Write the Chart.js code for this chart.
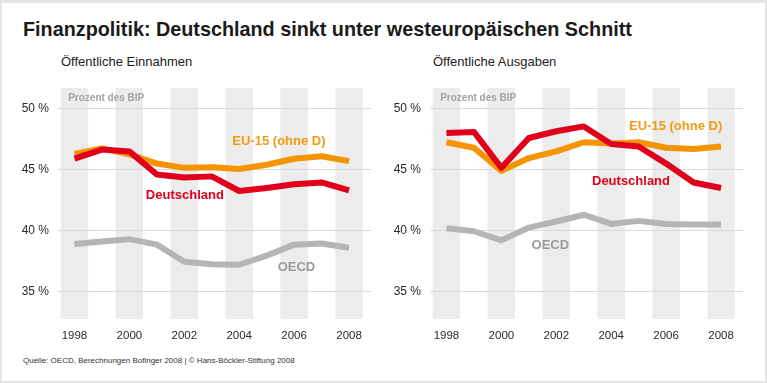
<!DOCTYPE html>
<html>
<head>
<meta charset="utf-8">
<script src="https://cdn.jsdelivr.net/npm/chart.js@4/dist/chart.umd.min.js"></script>
<style>
  html, body { margin: 0; padding: 0; background: #fff; }
  #frame { position: relative; width: 767px; height: 383px; box-sizing: border-box;
           border: 2px solid #e4e4e4; border-top-width: 3px; overflow: hidden;
           font-family: "Liberation Sans", Arial, sans-serif; color: #1a1a1a; }
  .title { position: absolute; left: 21px; top: 15px; font-size: 19.8px; font-weight: bold; white-space: nowrap; }
  .sub { position: absolute; top: 51px; font-size: 13px; color: #222; white-space: nowrap; }
  .foot { position: absolute; left: 21px; top: 353px; font-size: 8px; color: #333; white-space: nowrap; }
  .box { position: absolute; top: 77px; width: 380px; height: 270px; }
</style>
</head>
<body>
<div id="frame">
  <div class="title">Finanzpolitik: Deutschland sinkt unter westeuropäischen Schnitt</div>
  <div class="sub" style="left:59px">Öffentliche Einnahmen</div>
  <div class="sub" style="left:431px">Öffentliche Ausgaben</div>
  <div class="box" style="left:-2px"><canvas id="left"></canvas></div>
  <div class="box" style="left:370px"><canvas id="right"></canvas></div>
  <div class="foot">Quelle: OECD, Berechnungen Bofinger 2008 | © Hans-Böckler-Stiftung 2008</div>
</div>
<script>
"use strict";

const years = [1998, 1999, 2000, 2001, 2002, 2003, 2004, 2005, 2006, 2007, 2008];
const xTicks = [1998, 2000, 2002, 2004, 2006, 2008];
const yTicks = [35, 40, 45, 50];

// Öffentliche Einnahmen, Prozent des BIP
const einnahmenDE = [45.9, 46.65, 46.5, 44.6, 44.35, 44.45, 43.25, 43.5, 43.8, 43.95, 43.3];
const einnahmenEU = [46.3, 46.75, 46.25, 45.5, 45.15, 45.2, 45.05, 45.4, 45.9, 46.1, 45.7];
const einnahmenOECD = [38.9, 39.1, 39.3, 38.85, 37.45, 37.25, 37.2, 37.95, 38.85, 38.95, 38.6];

// Öffentliche Ausgaben, Prozent des BIP
const ausgabenDE = [48.0, 48.1, 45.15, 47.6, 48.15, 48.55, 47.1, 46.9, 45.5, 43.95, 43.5];
const ausgabenEU = [47.25, 46.8, 44.9, 45.95, 46.5, 47.25, 47.15, 47.25, 46.8, 46.7, 46.9];
const ausgabenOECD = [40.2, 39.95, 39.2, 40.25, 40.75, 41.3, 40.55, 40.8, 40.55, 40.5, 40.5];

const RED = '#e0001b';
const ORANGE = '#f39400';
const GREY = '#b5b5b5';

// where the series names sit (year, value)
const leftLabels = [
    { text: 'EU-15 (ohne D)', x: 2003.75, y: 47.3, color: '#f29a10' },
    { text: 'Deutschland', x: 2000.6, y: 42.85, color: RED },
    { text: 'OECD', x: 2005.4, y: 36.95, color: '#9b9b9b' }
];
const rightLabels = [
    { text: 'EU-15 (ohne D)', x: 2004.65, y: 48.55, color: '#f29a10' },
    { text: 'Deutschland', x: 2003.3, y: 44.05, color: RED },
    { text: 'OECD', x: 2001.1, y: 38.8, color: '#9b9b9b' }
];

function points(values) {
    return years.map((yr, i) => ({ x: yr, y: values[i] }));
}

function noPadding(s) {
    s.paddingLeft = 0;
    s.paddingRight = 0;
    s.paddingTop = 0;
    s.paddingBottom = 0;
}

const stripes = {
    id: 'stripes',
    beforeDraw(chart) {
        const ctx = chart.ctx;
        const x = chart.scales.x;
        const area = chart.chartArea;
        ctx.save();
        ctx.fillStyle = '#ececec';
        for (let i = 0; i < xTicks.length; i++) {
            const a = x.getPixelForValue(xTicks[i] - 0.5);
            const b = x.getPixelForValue(xTicks[i] + 0.5);
            ctx.fillRect(a, area.top, b - a, area.bottom - area.top);
        }
        ctx.restore();
    }
};

const seriesNames = {
    id: 'seriesNames',
    afterDatasetsDraw(chart, args, opts) {
        const ctx = chart.ctx;
        const x = chart.scales.x;
        const y = chart.scales.y;
        ctx.save();
        ctx.textBaseline = 'middle';
        ctx.textAlign = 'left';
        ctx.font = 'bold 10px "Liberation Sans", Arial, sans-serif';
        ctx.fillStyle = '#a3a3a3';
        ctx.fillText('Prozent des BIP', x.getPixelForValue(1997.77), y.getPixelForValue(50.9));
        ctx.font = 'bold 13px "Liberation Sans", Arial, sans-serif';
        for (const l of opts.labels) {
            ctx.fillStyle = l.color;
            ctx.fillText(l.text, x.getPixelForValue(l.x), y.getPixelForValue(l.y));
        }
        ctx.restore();
    }
};

function makeChart(id, de, eu, oecd, labels) {
    const ctx = document.getElementById(id).getContext('2d');
    return new Chart(ctx, {
        type: 'line',
        data: {
            datasets: [
                { label: 'Deutschland', data: points(de), borderColor: RED },
                { label: 'EU-15 (ohne D)', data: points(eu), borderColor: ORANGE },
                { label: 'OECD', data: points(oecd), borderColor: GREY }
            ]
        },
        options: {
            responsive: true,
            maintainAspectRatio: false,
            animation: false,
            layout: { padding: { top: 8, right: 9, left: 0, bottom: 0 } },
            elements: {
                line: { borderWidth: 6, tension: 0, borderJoinStyle: 'round', borderCapStyle: 'butt' },
                point: { radius: 0 }
            },
            plugins: {
                legend: { display: false },
                tooltip: { enabled: false },
                seriesNames: { labels: labels }
            },
            scales: {
                x: {
                    type: 'linear',
                    min: 1997.4,
                    max: 2008.8,
                    afterBuildTicks: (s) => { s.ticks = xTicks.map(v => ({ value: v })); },
                    afterFit: (s) => { s.height = 31; noPadding(s); },
                    grid: { display: false, drawTicks: false },
                    border: { display: false },
                    ticks: {
                        padding: 10,
                        color: '#2a2a2a',
                        font: { family: '"Liberation Sans", Arial, sans-serif', size: 11.5 },
                        maxRotation: 0,
                        callback: (v) => String(v)
                    }
                },
                y: {
                    min: 32.75,
                    max: 51.7,
                    afterBuildTicks: (s) => { s.ticks = yTicks.map(v => ({ value: v })); },
                    afterFit: (s) => { s.width = 58; noPadding(s); },
                    grid: { color: '#dadada', lineWidth: 1, drawTicks: false },
                    border: { display: false },
                    ticks: {
                        padding: 9,
                        color: '#2a2a2a',
                        font: { family: '"Liberation Sans", Arial, sans-serif', size: 12 },
                        callback: (v) => v + ' %'
                    }
                }
            }
        },
        plugins: [stripes, seriesNames]
    });
}

makeChart('left', einnahmenDE, einnahmenEU, einnahmenOECD, leftLabels);
makeChart('right', ausgabenDE, ausgabenEU, ausgabenOECD, rightLabels);
</script>
</body>
</html>
